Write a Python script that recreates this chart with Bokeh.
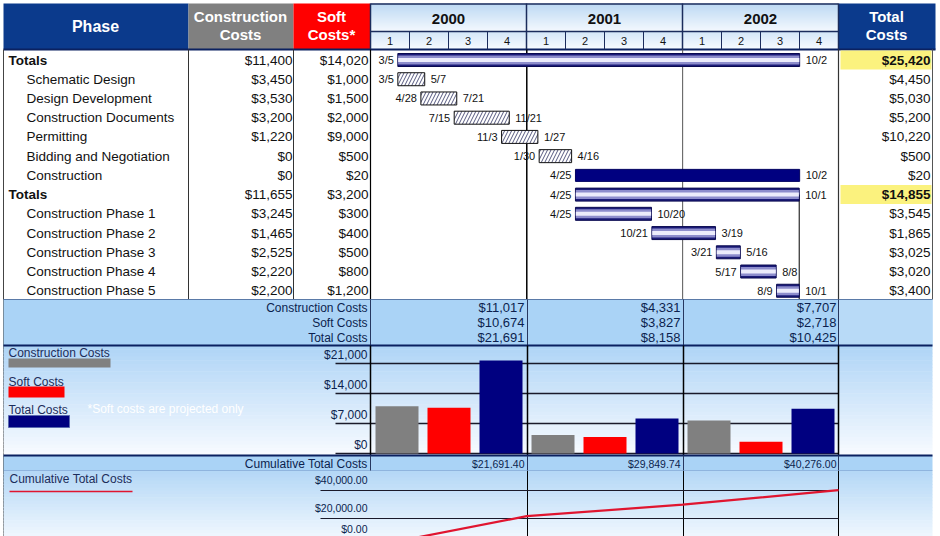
import numpy as np
from bokeh.plotting import figure
from bokeh.models import Range1d, ColumnDataSource
from bokeh.core.properties import value
from bokeh.embed import file_html
from bokeh.resources import INLINE

# ---------------- data ----------------
phases = ["Totals", "Schematic Design", "Design Development", "Construction Documents",
          "Permitting", "Bidding and Negotiation", "Construction", "Totals",
          "Construction Phase 1", "Construction Phase 2", "Construction Phase 3",
          "Construction Phase 4", "Construction Phase 5"]
is_total = [True, False, False, False, False, False, False, True, False, False, False, False, False]
construction_costs = [11400, 3450, 3530, 3200, 1220, 0, 0, 11655, 3245, 1465, 2525, 2220, 2200]
soft_costs = [14020, 1000, 1500, 2000, 9000, 500, 20, 3200, 300, 400, 500, 800, 1200]
total_costs = [25420, 4450, 5030, 5200, 10220, 500, 20, 14855, 3545, 1865, 3025, 3020, 3400]
start_dates = ["2000-03-05", "2000-03-05", "2000-04-28", "2000-07-15", "2000-11-03", "2001-01-30",
               "2001-04-25", "2001-04-25", "2001-04-25", "2001-10-21", "2002-03-21", "2002-05-17",
               "2002-08-09"]
end_dates = ["2002-10-02", "2000-05-07", "2000-07-21", "2000-11-21", "2001-01-27", "2001-04-16",
             "2002-10-02", "2002-10-01", "2001-10-20", "2002-03-19", "2002-05-16", "2002-08-08",
             "2002-10-01"]
bar_styles = ["gradient", "hatch", "hatch", "hatch", "hatch", "hatch", "solid", "gradient",
              "gradient", "gradient", "gradient", "gradient", "gradient"]

years = ["2000", "2001", "2002"]
quarters = ["1", "2", "3", "4"]
year_construction = [11017, 4331, 7707]
year_soft = [10674, 3827, 2718]
year_total = [21691, 8158, 10425]
cumulative_dates = ["2000-01-01", "2001-01-01", "2002-01-01", "2003-01-01"]
cumulative_total = [0.0, 21691.40, 29849.74, 40276.00]
bar_ticks = [0, 7000, 14000, 21000]
line_ticks = [0, 20000, 40000]
series_names = ["Construction Costs", "Soft Costs", "Total Costs"]
series_colors = ["#808080", "#ff0000", "#000080"]

# ---------------- layout constants ----------------
W, H = 940, 536
T0 = np.datetime64("2000-01-01")
X_TL, X_TR = 370, 838
PX_PER_DAY = (X_TR - X_TL) / 1096.0
ROW0, ROW_H = 59.5, 19.23
row_y = [ROW0 + i * ROW_H for i in range(len(phases))]


def days(d):
    return float((np.datetime64(d) - T0) / np.timedelta64(1, "D"))


def md(d):
    dt = np.datetime64(d).astype(object)
    return f"{dt.month}/{dt.day}"


def money(v):
    return "${:,}".format(v)


p = figure(width=W, height=H, x_range=Range1d(0, W), y_range=Range1d(H, 0),
           output_backend="svg", toolbar_location=None, min_border=0,
           x_axis_location=None, y_axis_location=None)
p.grid.visible = False
p.outline_line_color = None
p.background_fill_color = "white"
p.border_fill_color = "white"

p.extra_x_ranges = {"t": Range1d(-X_TL / PX_PER_DAY, (W - X_TL) / PX_PER_DAY)}
# bar chart: $0 at y=453, 7000 per 30px ; line chart: $0 at y=546, 20000 per 28px
p.extra_y_ranges = {
    "usd": Range1d((453 - H) * 7000 / 30.0, 453 * 7000 / 30.0),
    "cum": Range1d((546 - H) * 20000 / 28.0, 546 * 20000 / 28.0),
}

FONT = value("Liberation Sans")


def txt(x, y, s, size="12px", color="#111111", align="left", bold=False,
        baseline="middle", **kw):
    p.text(x=[x], y=[y], text=[s], text_font=FONT, text_font_size=size,
           text_color=color, text_align=align, text_baseline=baseline,
           text_font_style="bold" if bold else "normal", **kw)


def hexc(c):
    c = c.lstrip("#")
    return np.array([int(c[i:i + 2], 16) for i in (0, 2, 4)], dtype=float)


def vgrad(x0, x1, y0, y1, c0, c1, n=24):
    a, b = hexc(c0), hexc(c1)
    ys = np.linspace(y0, y1, n + 1)
    cols = []
    for t in (np.arange(n) + 0.5) / n:
        c = a + (b - a) * t
        cols.append("#%02x%02x%02x" % tuple(int(round(v)) for v in c))
    p.quad(left=[x0] * n, right=[x1] * n, top=list(ys[:-1]), bottom=list(ys[1:] + 0.6),
           fill_color=cols, line_color=None)


def vline(x, y0, y1, color="black", w=1, **kw):
    p.segment(x0=[x], y0=[y0], x1=[x], y1=[y1], line_color=color, line_width=w, **kw)


def hline(y, x0, x1, color="black", w=1, **kw):
    p.segment(x0=[x0], y0=[y], x1=[x1], y1=[y], line_color=color, line_width=w, **kw)


# ---------------- header ----------------
p.quad(left=[3], right=[188], top=[3], bottom=[49], fill_color="#0b3a8c", line_color=None)
p.quad(left=[188], right=[293], top=[3], bottom=[49], fill_color="#808080", line_color=None)
p.quad(left=[293], right=[370], top=[3], bottom=[49], fill_color="#ff0000", line_color=None)
p.quad(left=[838], right=[935], top=[3], bottom=[49], fill_color="#0b3a8c", line_color=None)
vgrad(370, 838, 3, 31, "#bcd8f3", "#f4f9fe", n=14)
vgrad(370, 838, 31, 49, "#d3e6f8", "#f7fbff", n=9)
hline(3.5, 370, 838, "#1b2c5c", 1.5)
hline(31, 370, 838, "#1b2c5c", 1.5)
hline(49, 3, 935, "#0b2160", 2)
for i in range(4):
    vline(X_TL + i * 156, 3, 49, "#1b2c5c", 1.5)
for k in range(12):
    if k % 4:
        vline(X_TL + k * 39, 31, 49, "#1b2c5c", 1)
for i, yr in enumerate(years):
    txt(X_TL + i * 156 + 78, 18, yr, size="15px", color="#111111", align="center", bold=True)
    for k, q in enumerate(quarters):
        txt(X_TL + i * 156 + k * 39 + 19.5, 40.5, q, size="11px", color="#111111", align="center")

txt(95, 26, "Phase", size="16px", color="white", align="center", bold=True)
txt(240, 16, "Construction", size="15px", color="white", align="center", bold=True)
txt(240, 34, "Costs", size="15px", color="white", align="center", bold=True)
txt(331, 16, "Soft", size="15px", color="white", align="center", bold=True)
txt(331, 34, "Costs*", size="15px", color="white", align="center", bold=True)
txt(886, 16, "Total", size="15px", color="white", align="center", bold=True)
txt(886, 34, "Costs", size="15px", color="white", align="center", bold=True)

# ---------------- table body ----------------
for i, t in enumerate(is_total):
    if t:
        p.quad(left=[840], right=[931], top=[row_y[i] - 9.5], bottom=[row_y[i] + 9.5],
               fill_color="#fbf27e", line_color=None)

vline(3, 49, 536, "#444444", 1)
for xv in (188, 293):
    vline(xv, 49, 299, "#333333", 1)
vline(X_TL, 49, 299, "black", 1.2)
vline(X_TR, 49, 299, "#333333", 1.2)
vline(932, 49, 299, "#555555", 1)

for i, name in enumerate(phases):
    bold = is_total[i]
    txt(8 if bold else 26, row_y[i], name, size="13.5px", bold=bold)
    txt(292, row_y[i], money(construction_costs[i]), size="13.5px", align="right")
    txt(368, row_y[i], money(soft_costs[i]), size="13.5px", align="right")
    txt(930, row_y[i], money(total_costs[i]), size="13.5px", align="right", bold=bold)

# year lines in gantt body
vline(days("2001-01-01"), 49, 299, "black", 1.5, x_range_name="t")
vline(days("2002-01-01"), 49, 299, "#555555", 1, x_range_name="t")
vline(days(end_dates[7]), row_y[7], 299, "black", 1, x_range_name="t")

# ---------------- gantt bars ----------------
s_days = [days(d) for d in start_dates]
e_days = [days(d) for d in end_dates]
for i, st in enumerate(bar_styles):
    l, r, y = s_days[i], e_days[i], row_y[i]
    if st == "hatch":
        p.quad(left=[l], right=[r], top=[y - 6.5], bottom=[y + 6.5], x_range_name="t",
               fill_color="white", hatch_pattern="/", hatch_color="#55587f",
               hatch_scale=7, hatch_weight=1, line_color="#111111", line_width=1)
    elif st == "solid":
        p.quad(left=[l], right=[r], top=[y - 6], bottom=[y + 6], x_range_name="t",
               fill_color="#000080", line_color="#000060", line_width=1)
    else:
        p.quad(left=[l], right=[r], top=[y - 6.5], bottom=[y + 6.5], x_range_name="t",
               fill_color="#1b1b78", line_color="#0a0a50", line_width=1)
        p.quad(left=[l + 0.8], right=[r - 0.8], top=[y - 4.5], bottom=[y + 4.5], x_range_name="t",
               fill_color="#8d8dcc", line_color=None)
        p.quad(left=[l + 0.8], right=[r - 0.8], top=[y - 2], bottom=[y + 2], x_range_name="t",
               fill_color="#ececfb", line_color=None)

lab = ColumnDataSource(dict(s=s_days, e=e_days, y=row_y,
                            sl=[md(d) for d in start_dates], el=[md(d) for d in end_dates]))
p.text(x="s", y="y", text="sl", source=lab, x_range_name="t", x_offset=-4,
       text_align="right", text_baseline="middle", text_font=FONT, text_font_size="11px",
       text_color="#111111")
p.text(x="e", y="y", text="el", source=lab, x_range_name="t", x_offset=6,
       text_align="left", text_baseline="middle", text_font=FONT, text_font_size="11px",
       text_color="#111111")

# ---------------- summary strip ----------------
p.quad(left=[3], right=[932], top=[299], bottom=[345], fill_color="#aad3f6", line_color=None)
p.quad(left=[838], right=[932], top=[299], bottom=[345], fill_color="#b8daf7", line_color=None)
hline(299, 3, 932, "#5a7aa8", 1)
for xv in (X_TL, 527, 683, X_TR):
    vline(xv, 299, 345, "#27375f", 1)
strip_y = [307, 322, 337]
STRIP_C = "#0c1f4e"
for j, nm in enumerate(series_names):
    txt(367, strip_y[j], nm, size="12px", color=STRIP_C, align="right")
for i in range(3):
    xr = X_TL + (i + 1) * 156 - 2
    txt(xr, strip_y[0], money(year_construction[i]), size="13px", color=STRIP_C, align="right")
    txt(xr, strip_y[1], money(year_soft[i]), size="13px", color=STRIP_C, align="right")
    txt(xr, strip_y[2], money(year_total[i]), size="13px", color=STRIP_C, align="right")

# ---------------- bar chart ----------------
vgrad(3, 932, 345, 455, "#aed4f6", "#f8fbff", n=30)
for tv in bar_ticks:
    p.segment(x0=[335], x1=[X_TR], y0=[tv], y1=[tv], y_range_name="usd",
              line_color="#1a1a2a", line_width=1.3)
    p.text(x=[367], y=[tv], text=[money(tv)], y_range_name="usd", y_offset=-2,
           text_align="right", text_baseline="bottom", text_font=FONT,
           text_font_size="12px", text_color=STRIP_C)
hline(345, 3, 932, "#0b2160", 2.2)
for xv in (X_TL, 527, 683, X_TR):
    vline(xv, 345, 455, "black", 1.5)

offsets = [26.5, 78.5, 130.5]
series_vals = [year_construction, year_soft, year_total]
for j in range(3):
    xs = [X_TL + i * 156 + offsets[j] for i in range(3)]
    p.vbar(x=xs, top=series_vals[j], bottom=0, width=43, y_range_name="usd",
           fill_color=series_colors[j], line_color=None)

# legend
txt(8, 352, "Construction Costs", size="12px", color="#1c2c5a")
p.quad(left=[8], right=[110], top=[358], bottom=[367], fill_color="#808080", line_color=None)
txt(8, 381, "Soft Costs", size="12px", color="#1c2c5a")
p.quad(left=[8], right=[64], top=[386], bottom=[397], fill_color="#ff0000", line_color=None)
txt(8, 409, "Total Costs", size="12px", color="#1c2c5a")
p.quad(left=[8], right=[69], top=[415], bottom=[427], fill_color="#000080",
       line_color="#5a6ab0", line_width=1)
txt(87, 408, "*Soft costs are projected only", size="12px", color="white")

# ---------------- cumulative strip ----------------
p.quad(left=[3], right=[932], top=[455], bottom=[470], fill_color="#aad3f6", line_color=None)
hline(455, 3, 932, "#0b2160", 2.2)
hline(470, 3, 932, "#8fb4de", 1)
for xv in (X_TL, 527, 683, X_TR):
    vline(xv, 455, 470, "#27375f", 1)
txt(367, 463, "Cumulative Total Costs", size="12px", color=STRIP_C, align="right")
for i in range(3):
    xr = X_TL + (i + 1) * 156 - 2
    txt(xr, 463, "${:,.2f}".format(cumulative_total[i + 1]), size="10.5px",
        color=STRIP_C, align="right")

# ---------------- line chart ----------------
vgrad(3, 932, 470.5, 536, "#b3d7f6", "#f0f7fe", n=20)
for xv in (527, 683, X_TR):
    vline(xv, 470.5, 536, "black", 1)
for tv in line_ticks:
    p.segment(x0=[320], x1=[X_TR], y0=[tv], y1=[tv], y_range_name="cum",
              line_color="#1a1a2a", line_width=1.2)
    # the lowest label sits at the bottom edge; lift it just enough to stay inside
    off = -12 if tv == 0 else -5
    p.text(x=[367], y=[tv], text=["${:,.2f}".format(tv)], y_range_name="cum", y_offset=off,
           text_align="right", text_baseline="bottom", text_font=FONT,
           text_font_size="10.5px", text_color=STRIP_C)
p.line(x=[days(d) for d in cumulative_dates], y=cumulative_total, x_range_name="t",
       y_range_name="cum", line_color="#e0152f", line_width=2.2)
txt(9, 478, "Cumulative Total Costs", size="12px", color="#1c2c5a")
hline(491, 9, 132, "#e0152f", 1.5)

open("out.html", "w").write(file_html(p, INLINE))
